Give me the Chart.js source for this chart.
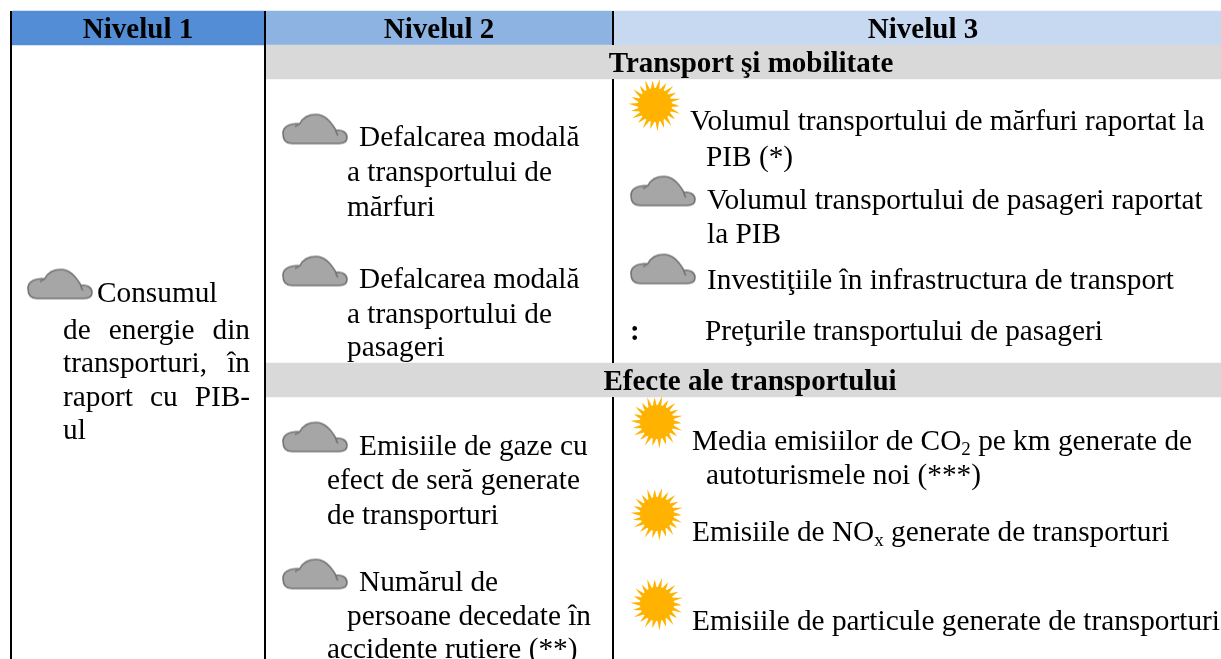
<!DOCTYPE html>
<html>
<head>
<meta charset="utf-8">
<style>
  html, body { margin: 0; padding: 0; background: #fff; }
  canvas { display: block; }
</style>
<script src="https://cdn.jsdelivr.net/npm/chart.js@4"></script>
</head>
<body>
<canvas id="table-chart" width="1221" height="659"></canvas>
<script>
// table content
var headers = ["Nivelul 1", "Nivelul 2", "Nivelul 3"];
var sections = ["Transport şi mobilitate", "Efecte ale transportului"];
var level1 = ["Consumul", "de energie din", "transporturi, în", "raport cu PIB-", "ul"];
var level2 = [
    "Defalcarea modală", "a transportului de", "mărfuri",
    "Defalcarea modală", "a transportului de", "pasageri",
    "Emisiile de gaze cu", "efect de seră generate", "de transporturi",
    "Numărul de", "persoane decedate în", "accidente rutiere (**)"
];
var level3 = [
    "Volumul transportului de mărfuri raportat la", "PIB (*)",
    "Volumul transportului de pasageri raportat", "la PIB",
    "Investiţiile în infrastructura de transport",
    ":", "Preţurile transportului de pasageri",
    "Media emisiilor de CO_2 pe km generate de", "autoturismele noi (***)",
    "Emisiile de NO_x generate de transporturi",
    "Emisiile de particule generate de transporturi"
];

// layout, in page units of the two hidden axes
var level1X = [97, 63, 63, 63, 63];
var level1Y = [293, 330, 363, 397, 430];
var justifyRight = 250;
var level2X = [359, 347, 347, 359, 347, 347, 359, 327, 327, 359, 347, 327];
var level2Y = [137, 172, 207, 279, 314, 347, 446, 480, 515, 582, 616, 649];
var level3X = [690, 706, 707, 707, 707, 630, 705, 692, 706, 692, 692];
var level3Y = [121, 157, 200, 234, 280, 331, 331, 441, 475, 532, 621];
var headerX = [138, 439, 923];
var sectionX = [751, 750];
var bandStart = [12, 266, 613, 266, 266];
var bandEnd = [265, 612, 1221, 1221, 1221];
var bandY = [28, 28, 28, 62, 380];
var bandColors = ["#538dd5", "#8db3e2", "#c6d9f1", "#d9d9d9", "#d9d9d9"];
var sunX = [655, 657, 657, 657];
var sunY = [105, 422, 514, 604];
var cloudX = [60, 315, 315, 315, 315, 663, 663];
var cloudY = [284, 129, 271, 437, 574, 191, 269];

var serif = '"Liberation Serif", "Times New Roman", serif';
var bodyFont = "29.3px " + serif;
var boldFont = "bold 29px " + serif;
var subFont = "19px " + serif;

// sun with thin curved rays around a solid disc
function sunSprite() {
    var c = document.createElement("canvas");
    c.width = 56; c.height = 56;
    var g = c.getContext("2d");
    g.fillStyle = "#ffb300";
    g.translate(28, 28);
    g.beginPath();
    g.arc(0, 0, 17, 0, Math.PI * 2);
    g.fill();
    var rays = 22;
    for (var i = 0; i < rays; i++) {
        var step = Math.PI * 2 / rays;
        var a = i * step;
        var tip = i % 2 ? 26.5 : 24.5;
        g.beginPath();
        g.moveTo(Math.cos(a - step * 0.42) * 16, Math.sin(a - step * 0.42) * 16);
        g.quadraticCurveTo(Math.cos(a - step * 0.1) * 21, Math.sin(a - step * 0.1) * 21,
            Math.cos(a + step * 0.18) * tip, Math.sin(a + step * 0.18) * tip);
        g.quadraticCurveTo(Math.cos(a + step * 0.3) * 20, Math.sin(a + step * 0.3) * 20,
            Math.cos(a + step * 0.42) * 16, Math.sin(a + step * 0.42) * 16);
        g.closePath();
        g.fill();
    }
    return c;
}

function cloudSprite() {
    var c = document.createElement("canvas");
    c.width = 66; c.height = 33;
    var g = c.getContext("2d");
    g.fillStyle = "#a6a6a6";
    g.strokeStyle = "#737373";
    g.lineWidth = 1.6;
    g.beginPath();
    g.moveTo(10, 31);
    g.bezierCurveTo(4, 31, 1, 27, 1, 21);
    g.bezierCurveTo(1, 14, 7, 11, 18, 11);
    g.bezierCurveTo(21, 5, 27, 2, 34, 2);
    g.bezierCurveTo(43, 2, 49, 9, 54, 18);
    g.bezierCurveTo(60, 17, 65, 20, 65, 25);
    g.bezierCurveTo(65, 29, 62, 31, 57, 31);
    g.closePath();
    g.fill();
    g.stroke();
    // the two small folds where the lobes meet
    g.beginPath();
    g.moveTo(18, 11);
    g.quadraticCurveTo(16, 13, 13, 14);
    g.moveTo(54, 18);
    g.quadraticCurveTo(54, 21, 56, 23);
    g.stroke();
    return c;
}

function pairs(xs, ys) {
    var out = [];
    for (var i = 0; i < xs.length; i++) out.push({x: xs[i], y: ys[i]});
    return out;
}

// draws "CO_2" style text with a lowered small run after the underscore
function drawRuns(ctx, text, px, py) {
    var parts = text.split("_");
    var x = px;
    for (var i = 0; i < parts.length; i++) {
        var run = parts[i];
        if (i > 0) {
            ctx.font = subFont;
            ctx.fillText(run[0], x, py + 5);
            x += ctx.measureText(run[0]).width;
            run = run.slice(1);
        }
        ctx.font = run === ":" ? boldFont : bodyFont;
        ctx.fillText(run, x, py);
        x += ctx.measureText(run).width;
    }
}

function drawJustified(ctx, text, px, py, right) {
    var words = text.split(" ");
    var used = 0;
    words.forEach(function (w) { used += ctx.measureText(w).width; });
    var gap = words.length > 1 ? (right - px - used) / (words.length - 1) : 0;
    var x = px;
    words.forEach(function (w) {
        ctx.fillText(w, x, py);
        x += ctx.measureText(w).width + gap;
    });
}

var tableText = {
    id: "tableText",
    afterDatasetsDraw: function (chart) {
        var ctx = chart.ctx;
        var sx = chart.scales.x, sy = chart.scales.y;
        ctx.save();
        ctx.fillStyle = "#000";
        ctx.textBaseline = "alphabetic";

        ctx.font = boldFont;
        ctx.textAlign = "center";
        headers.forEach(function (t, i) {
            ctx.fillText(t, sx.getPixelForValue(headerX[i]), sy.getPixelForValue(38));
        });
        sections.forEach(function (t, i) {
            ctx.fillText(t, sx.getPixelForValue(sectionX[i]), sy.getPixelForValue(bandY[i + 3] + 10));
        });

        ctx.font = bodyFont;
        ctx.textAlign = "left";
        level1.forEach(function (t, i) {
            var px = sx.getPixelForValue(level1X[i]);
            var py = sy.getPixelForValue(level1Y[i] + 9);
            if (i >= 1 && i <= 3) drawJustified(ctx, t, px, py, sx.getPixelForValue(justifyRight));
            else ctx.fillText(t, px, py);
        });
        level2.forEach(function (t, i) {
            ctx.fillText(t, sx.getPixelForValue(level2X[i]), sy.getPixelForValue(level2Y[i] + 9));
        });
        level3.forEach(function (t, i) {
            drawRuns(ctx, t, sx.getPixelForValue(level3X[i]), sy.getPixelForValue(level3Y[i] + 9));
        });
        ctx.restore();
    }
};

function rule(x, from, to) {
    return {
        type: "line",
        data: [{x: x, y: from}, {x: x, y: to}],
        borderColor: "#000",
        borderWidth: 2,
        pointRadius: 0,
        order: 1
    };
}

var ctx1 = document.getElementById("table-chart").getContext("2d");
var tableChart = new Chart(ctx1, {
    type: "bar",
    data: {
        datasets: [
            {
                data: bandStart.map(function (s, i) { return {x: [s, bandEnd[i]], y: bandY[i]}; }),
                backgroundColor: bandColors,
                barThickness: 34,
                order: 2
            },
            rule(11, 11, 659),
            rule(265, 11, 659),
            rule(613, 11, 45),
            rule(613, 79, 363),
            rule(613, 397, 659),
            {
                type: "scatter",
                data: pairs(sunX, sunY),
                pointStyle: sunSprite(),
                pointRadius: 20,
                order: 0
            },
            {
                type: "scatter",
                data: pairs(cloudX, cloudY),
                pointStyle: cloudSprite(),
                pointRadius: 20,
                order: 0
            }
        ]
    },
    options: {
        indexAxis: "y",
        responsive: false,
        animation: false,
        layout: {padding: 0, autoPadding: false},
        plugins: {legend: {display: false}, tooltip: {enabled: false}},
        scales: {
            x: {type: "linear", min: 0, max: 1221, display: false},
            y: {type: "linear", min: 0, max: 659, reverse: true, offset: false, display: false}
        }
    },
    plugins: [tableText]
});
</script>
</body>
</html>
